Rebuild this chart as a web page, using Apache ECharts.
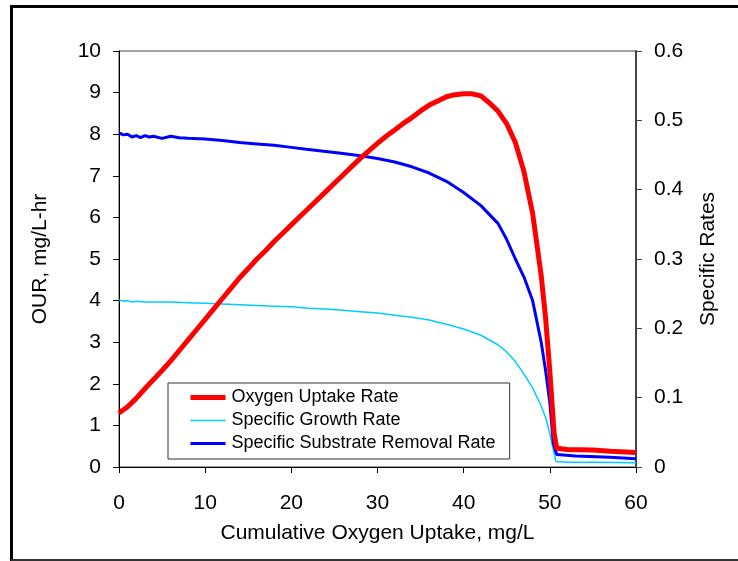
<!DOCTYPE html>
<html>
<head>
<meta charset="utf-8">
<script src="https://cdn.jsdelivr.net/npm/echarts@6/dist/echarts.min.js"></script>
<style>
html,body{margin:0;padding:0;background:#fff;}
#chart{width:738px;height:561px;}
</style>
</head>
<body>
<div id="chart"></div>
<script>
// Oxygen Uptake Rate (left axis, mg/L-hr)
const ourX = [0,1,2,3,4,5,6,7,8,9,10,11,12,13,14,15,16,17,18,19,20,21,22,23,24,25,26,27,28,29,30,31,32,33,34,35,36,37,38,39,40,41,42,43,44,45,46,47,48,49,49.5,50,50.5,50.8,52,55,57,60];
const ourY = [1.3,1.45,1.65,1.88,2.1,2.32,2.55,2.8,3.05,3.3,3.55,3.8,4.05,4.3,4.55,4.77,5.0,5.2,5.42,5.62,5.82,6.02,6.22,6.42,6.62,6.82,7.02,7.22,7.42,7.6,7.78,7.95,8.1,8.26,8.4,8.56,8.7,8.8,8.9,8.95,8.97,8.97,8.92,8.75,8.55,8.25,7.8,7.1,6.1,4.6,3.6,2.3,0.8,0.45,0.42,0.41,0.38,0.35];

// Specific Growth Rate (right axis)
const sgrX = [0,0.5,1,1.5,2,3,4,6,8,10,12,14,16,18,20,22,24,26,28,30,32,34,36,38,40,42,44,45,46,47,48,49,49.6,50,50.4,50.7,52,55,60];
const sgrY = [0.241,0.239,0.240,0.238,0.239,0.238,0.238,0.238,0.237,0.236,0.235,0.234,0.233,0.232,0.231,0.229,0.228,0.226,0.224,0.222,0.219,0.216,0.212,0.206,0.199,0.190,0.176,0.166,0.152,0.134,0.114,0.088,0.068,0.048,0.025,0.008,0.007,0.007,0.006];

// Specific Substrate Removal Rate (right axis)
const ssrX = [0,0.5,1,1.5,2,2.5,3,3.5,4,5,6,7,8,10,12,14,16,18,20,22,24,26,28,30,32,34,36,38,40,42,44,45,46,47,48,49,49.5,50,50.4,50.8,53,57,60];
const ssrY = [0.482,0.479,0.480,0.476,0.478,0.475,0.478,0.476,0.477,0.474,0.477,0.475,0.474,0.473,0.471,0.468,0.466,0.464,0.461,0.458,0.455,0.452,0.449,0.445,0.440,0.433,0.424,0.412,0.396,0.377,0.351,0.328,0.300,0.274,0.240,0.180,0.140,0.093,0.035,0.018,0.016,0.014,0.012];

const seriesNames = ['Oxygen Uptake Rate','Specific Growth Rate','Specific Substrate Removal Rate'];
const xTicks = [0,10,20,30,40,50,60];

const zip = (xs, ys) => xs.map((x,i)=>[x, ys[i]]);
const FONT = '"Liberation Sans", Arial, sans-serif';

const chart = echarts.init(document.getElementById('chart'), null, {renderer:'canvas'});
chart.setOption({
  animation:false,
  backgroundColor:'#fff',
  textStyle:{fontFamily:FONT},
  grid:{left:119, right:102, top:51, bottom:94, show:true, borderColor:'#444', borderWidth:1, backgroundColor:'transparent'},
  legend:{
    orient:'vertical', left:168, top:383,
    padding:[4,14,5,20],
    itemWidth:35, itemHeight:4, itemGap:2,
    backgroundColor:'#fff', borderColor:'#333', borderWidth:1,
    itemStyle:{opacity:0},
    lineStyle:{width:'inherit'},
    textStyle:{fontFamily:FONT, fontSize:18, color:'#000', padding:[0,0,0,1], lineHeight:21},
    data:seriesNames
  },
  xAxis:{
    type:'value', min:xTicks[0], max:xTicks[xTicks.length-1], interval:10,
    name:'Cumulative Oxygen Uptake, mg/L', nameLocation:'middle', nameGap:56,
    nameTextStyle:{fontFamily:FONT, fontSize:21, color:'#000'},
    axisLine:{show:true, onZero:false, lineStyle:{color:'#000', width:1}},
    axisTick:{show:true, inside:false, length:6, lineStyle:{color:'#000'}},
    axisLabel:{fontFamily:FONT, fontSize:21, color:'#000', margin:26},
    splitLine:{show:false}
  },
  yAxis:[{
    type:'value', min:0, max:10, interval:1, position:'left',
    name:'OUR, mg/L-hr', nameLocation:'middle', nameGap:68,
    nameTextStyle:{fontFamily:FONT, fontSize:21, color:'#000'},
    axisLine:{show:true, lineStyle:{color:'#000', width:1}},
    axisTick:{show:true, inside:false, length:6, lineStyle:{color:'#000'}},
    axisLabel:{fontFamily:FONT, fontSize:21, color:'#000', margin:18},
    splitLine:{show:false}
  },{
    type:'value', min:0, max:0.6, interval:0.1, position:'right',
    name:'Specific Rates', nameLocation:'middle', nameGap:62,
    nameTextStyle:{fontFamily:FONT, fontSize:21, color:'#000'},
    axisLine:{show:true, lineStyle:{color:'#444', width:2}},
    axisTick:{show:true, inside:false, length:6, lineStyle:{color:'#444'}},
    axisLabel:{fontFamily:FONT, fontSize:21, color:'#000', margin:18,
      formatter:v=> v===0 ? '0' : v.toFixed(1)},
    splitLine:{show:false}
  }],
  series:[
    {name:seriesNames[1], type:'line', yAxisIndex:1, symbol:'none', z:2,
     data:zip(sgrX,sgrY), lineStyle:{color:'#00CCFF', width:1.5}, itemStyle:{color:'#00CCFF'}},
    {name:seriesNames[2], type:'line', yAxisIndex:1, symbol:'none', z:3,
     data:zip(ssrX,ssrY), lineStyle:{color:'#0000FF', width:3}, itemStyle:{color:'#0000FF'}},
    {name:seriesNames[0], type:'line', yAxisIndex:0, symbol:'none', z:4,
     data:zip(ourX,ourY), lineStyle:{color:'#FF0000', width:5}, itemStyle:{color:'#FF0000'}}
  ],
  graphic:[
    {type:'line', shape:{x1:11, y1:6.5, x2:738, y2:6.5}, style:{stroke:'#000', lineWidth:3}, silent:true},
    {type:'line', shape:{x1:11.5, y1:5, x2:11.5, y2:561}, style:{stroke:'#000', lineWidth:3}, silent:true},
    {type:'line', shape:{x1:11, y1:560, x2:738, y2:560}, style:{stroke:'#333', lineWidth:2}, silent:true}
  ]
});
</script>
</body>
</html>
